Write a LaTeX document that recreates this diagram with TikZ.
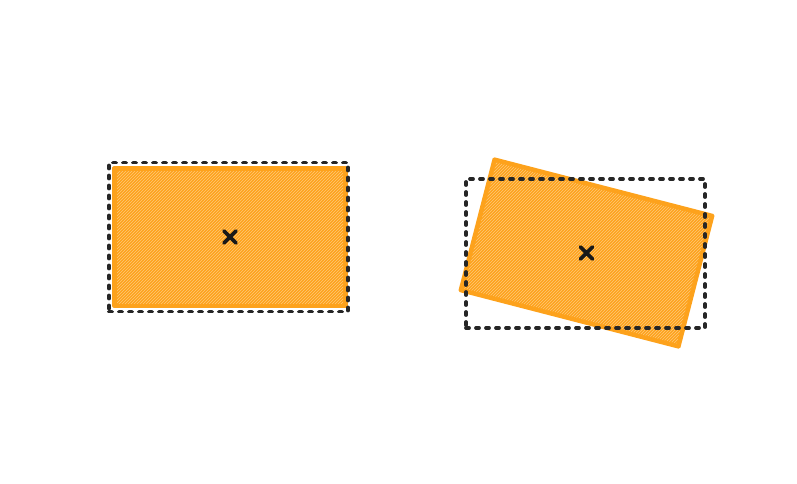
\documentclass[tikz,border=0pt]{standalone}
\usetikzlibrary{patterns}
\definecolor{boxorange}{RGB}{253,162,28}
\definecolor{hatchorange}{RGB}{255,200,120}

\begin{document}
\begin{tikzpicture}[x=1pt,y=-1pt,
  shapebox/.style={draw=boxorange,fill=boxorange,line width=3.2pt,line join=round,minimum width=232pt,minimum height=138pt,inner sep=0pt},
  hatchbox/.style={pattern=north east lines,pattern color=hatchorange,minimum width=226pt,minimum height=132pt,inner sep=0pt},
  framebox/.style={draw=black!85,line width=3.8pt,dash pattern=on 3pt off 7pt,line cap=round,minimum width=239pt,minimum height=149pt,inner sep=0pt},
  crossline/.style={line width=3.6pt,line cap=round,black!90}]
\useasboundingbox (0,0) rectangle (797,483);
% left: unrotated box
\node[shapebox](plain) at (230,237){};
\node[hatchbox] at (plain.center){};
\node[framebox](plainframe) at (228.5,237){};
\draw[crossline] ([shift={(-6,-6)}]plain.center)--([shift={(6,6)}]plain.center) ([shift={(-6,6)}]plain.center)--([shift={(6,-6)}]plain.center);
% right: rotated box in its original frame
\node[shapebox,minimum width=226pt,minimum height=136pt,rotate=-14.5](turned) at (586.5,253){};
\node[hatchbox,minimum width=220pt,minimum height=130pt,rotate=-14.5] at (turned.center){};
\node[framebox](turnedframe) at (585.5,253.5){};
\draw[crossline] ([shift={(-6,-6)}]turned.center)--([shift={(6,6)}]turned.center) ([shift={(-6,6)}]turned.center)--([shift={(6,-6)}]turned.center);
\end{tikzpicture}
\end{document}
